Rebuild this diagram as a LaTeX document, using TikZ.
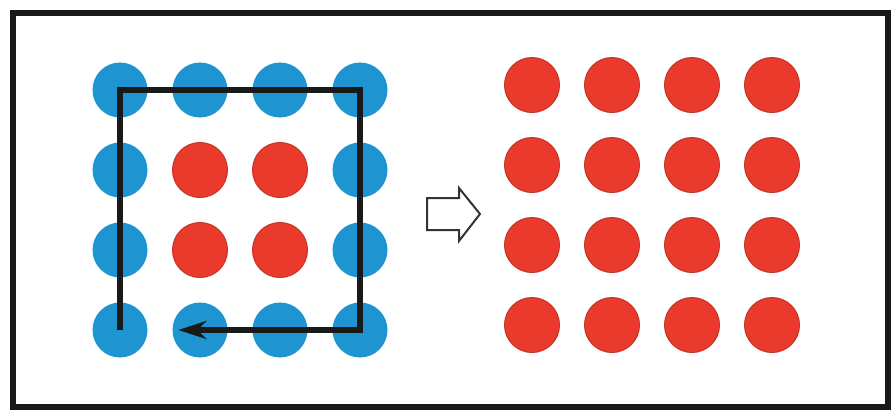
\documentclass[tikz,border=0pt]{standalone}
\usepackage[usenames,dvipsnames]{xcolor}
\usetikzlibrary{arrows.meta,calc}
\definecolor{dotblue}{RGB}{30,148,208}
\definecolor{dotred}{RGB}{234,58,44}
\definecolor{dotrim}{RGB}{196,52,40}

\begin{document}
\begin{tikzpicture}[x=1pt,y=-1pt,
  bluedot/.style={circle,fill=dotblue,minimum size=55pt,inner sep=0pt},
  reddot/.style={circle,fill=dotred,draw=dotrim,line width=1pt,minimum size=55pt,inner sep=0pt}]
\useasboundingbox (0,0) rectangle (894,413);
\fill[white] (0,0) rectangle (894,413);
\draw[line width=6pt, color=black!90] (13,13) rectangle (888,407);
% left block: blue ring round a red 2x2 core
\foreach \i in {0,...,3}
  \foreach \j in {0,...,3} {
    \pgfmathtruncatemacro\core{(\i>0)&&(\i<3)&&(\j>0)&&(\j<3)}
    \ifnum\core=1 \def\dotsty{reddot}\else\def\dotsty{bluedot}\fi
    \node[\dotsty] (a\i\j) at (120+80*\i, 90+80*\j) {};
  }
% right block: all red
\foreach \i in {0,...,3}
  \foreach \j in {0,...,3}
    \node[reddot] (b\i\j) at (532+80*\i, 85+80*\j) {};
% walk round the ring
\draw[line width=6pt, color=black!90, line join=miter, -{Stealth[length=28pt,width=18pt]}]
  (a03.center) -- (a00.center) -- (a30.center) -- (a33.center) -- ($(a13.west)+(6,0)$);
% hollow arrow between blocks
\draw[line width=2pt, color=black!80, line join=miter]
  (427,198) -- (459,198) -- (459,188) -- (480,214) -- (459,241) -- (459,230) -- (427,230) -- cycle;
\end{tikzpicture}
\end{document}
